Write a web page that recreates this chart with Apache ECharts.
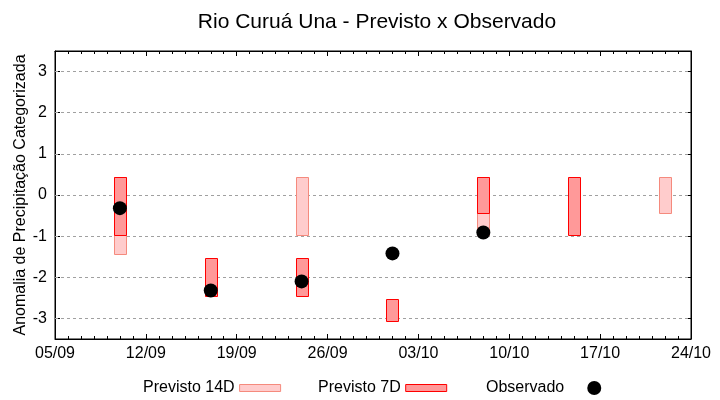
<!DOCTYPE html>
<html>
<head>
<meta charset="utf-8">
<script src="https://cdn.jsdelivr.net/npm/echarts@6/dist/echarts.min.js"></script>
<style>html,body{margin:0;padding:0;background:#fff}#c{width:720px;height:400px}</style>
</head>
<body>
<div id="c"></div>
<script>
const startDate = '2024-09-05';
const endDate = '2024-10-24';
const dates = ['2024-09-10','2024-09-17','2024-09-24','2024-10-01','2024-10-08','2024-10-15','2024-10-22'];
const prev14Low  = [-1.45, null, -0.97, null, -0.97, null, -0.45];
const prev14High = [ 0.43, null,  0.43, null,  0.43, null,  0.43];
const prev7Low   = [-0.97, -2.45, -2.45, -3.06, -0.45, -0.97, null];
const prev7High  = [ 0.43, -1.52, -1.52, -2.52,  0.43,  0.43, null];
const observed   = [-0.32, -2.32, -2.10, -1.42, -0.91, null, null];
const yTicks = [-3,-2,-1,0,1,2,3];

const DAY = 86400000;
const t0 = Date.parse(startDate + 'T00:00:00Z');
const dayOf = s => Math.round((Date.parse(s + 'T00:00:00Z') - t0) / DAY);
const xMax = dayOf(endDate);
const fmtDay = v => {
  const d = new Date(t0 + v * DAY);
  return String(d.getUTCDate()).padStart(2,'0') + '/' + String(d.getUTCMonth()+1).padStart(2,'0');
};

const half = 0.47;
function boxData(lo, hi) {
  const out = [];
  dates.forEach((d, i) => { if (lo[i] != null && hi[i] != null) out.push([dayOf(d), lo[i], hi[i]]); });
  return out;
}
function renderBox(params, api) {
  const x = api.value(0), lo = api.value(1), hi = api.value(2);
  const p1 = api.coord([x - half, hi]);
  const p2 = api.coord([x + half, lo]);
  return {
    type: 'rect',
    shape: { x: Math.round(p1[0]) + 0.5, y: Math.round(p1[1]) + 0.5, width: Math.round(p2[0] - p1[0]), height: Math.round(p2[1] - p1[1]) },
    style: api.style()
  };
}
const obsData = [];
dates.forEach((d, i) => { if (observed[i] != null) obsData.push([dayOf(d), observed[i]]); });

const FONT = 'Liberation Sans';
const c14 = { color: '#ffcccc', borderColor: '#f58a7d', borderWidth: 1 };
const c7 = { color: '#ff9999', borderColor: '#ff0000', borderWidth: 1 };

const chart = echarts.init(document.getElementById('c'), null, { renderer: 'canvas' });
const legendBase = { orient: 'horizontal', top: 375, align: 'right', textStyle: { fontFamily: FONT, fontSize: 16, color: '#000' }, selectedMode: false };
chart.setOption({
  animation: false,
  textStyle: { fontFamily: FONT },
  title: { text: 'Rio Curuá Una - Previsto x Observado', left: 372, textAlign: 'center', top: 7,
    textStyle: { fontFamily: FONT, fontSize: 21, fontWeight: 'normal', color: '#000' } },
  grid: { left: 55, right: 29, top: 51, bottom: 61, show: true, borderColor: '#000', borderWidth: 1,
    backgroundColor: 'transparent', containLabel: false, outerBoundsMode: 'none' },
  legend: [
    Object.assign({}, legendBase, { left: 138, itemWidth: 41, itemHeight: 7,
      data: [{ name: 'Previsto 14D', icon: 'rect', itemStyle: c14 }] }),
    Object.assign({}, legendBase, { left: 313, itemWidth: 41, itemHeight: 7,
      data: [{ name: 'Previsto 7D', icon: 'rect', itemStyle: c7 }] }),
    Object.assign({}, legendBase, { left: 481, itemWidth: 50, itemHeight: 14,
      data: [{ name: 'Observado', icon: 'circle', itemStyle: { color: '#000', opacity: 1 } }] })
  ],
  xAxis: [
    { type: 'value', min: 0, max: xMax, interval: 7, position: 'bottom',
      axisLine: { show: true, onZero: false, lineStyle: { color: '#000' } },
      axisTick: { show: true, inside: true, length: 5, lineStyle: { color: '#000' } },
      minorTick: { show: true, splitNumber: 7, length: 3, lineStyle: { color: '#000' } },
      axisLabel: { formatter: fmtDay, fontSize: 16, color: '#000', margin: 7, fontFamily: FONT, hideOverlap: false },
      splitLine: { show: false } },
    { type: 'value', min: 0, max: xMax, interval: 7, position: 'top',
      axisLine: { show: true, onZero: false, lineStyle: { color: '#000' } },
      axisTick: { show: true, inside: true, length: 5, lineStyle: { color: '#000' } },
      minorTick: { show: true, splitNumber: 7, length: 3, lineStyle: { color: '#000' } },
      axisLabel: { show: false }, splitLine: { show: false } }
  ],
  yAxis: [
    { type: 'value', min: -3.5, max: 3.5, position: 'left',
      name: 'Anomalia de Precipitação Categorizada', nameLocation: 'middle', nameGap: 26, nameMoveOverlap: false,
      nameTextStyle: { fontSize: 16, color: '#000', fontFamily: FONT },
      axisLine: { show: true, onZero: false, lineStyle: { color: '#000' } },
      axisTick: { show: true, inside: true, length: 5, customValues: yTicks, lineStyle: { color: '#000' } },
      axisLabel: { customValues: yTicks, fontSize: 16, color: '#000', margin: 8, fontFamily: FONT },
      splitLine: { show: false } },
    { type: 'value', min: -3.5, max: 3.5, position: 'right',
      axisLine: { show: true, onZero: false, lineStyle: { color: '#000' } },
      axisTick: { show: true, inside: true, length: 5, customValues: yTicks, lineStyle: { color: '#000' } },
      axisLabel: { show: false }, splitLine: { show: false } }
  ],
  series: [
    { name: 'Previsto 14D', type: 'custom', renderItem: renderBox, data: boxData(prev14Low, prev14High),
      itemStyle: c14, encode: { x: 0, y: [1, 2] }, z: 3, clip: true,
      markLine: { silent: true, symbol: 'none', label: { show: false }, z: 1,
        lineStyle: { color: '#a0a0a0', type: [3, 3], width: 1 },
        data: yTicks.map(v => ({ yAxis: v })) } },
    { name: 'Previsto 7D', type: 'custom', renderItem: renderBox, data: boxData(prev7Low, prev7High),
      itemStyle: c7, encode: { x: 0, y: [1, 2] }, z: 4, clip: true },
    { name: 'Observado', type: 'scatter', data: obsData, symbol: 'circle', symbolSize: 14,
      itemStyle: { color: '#000', opacity: 1 }, z: 5 }
  ]
});
</script>
</body>
</html>
